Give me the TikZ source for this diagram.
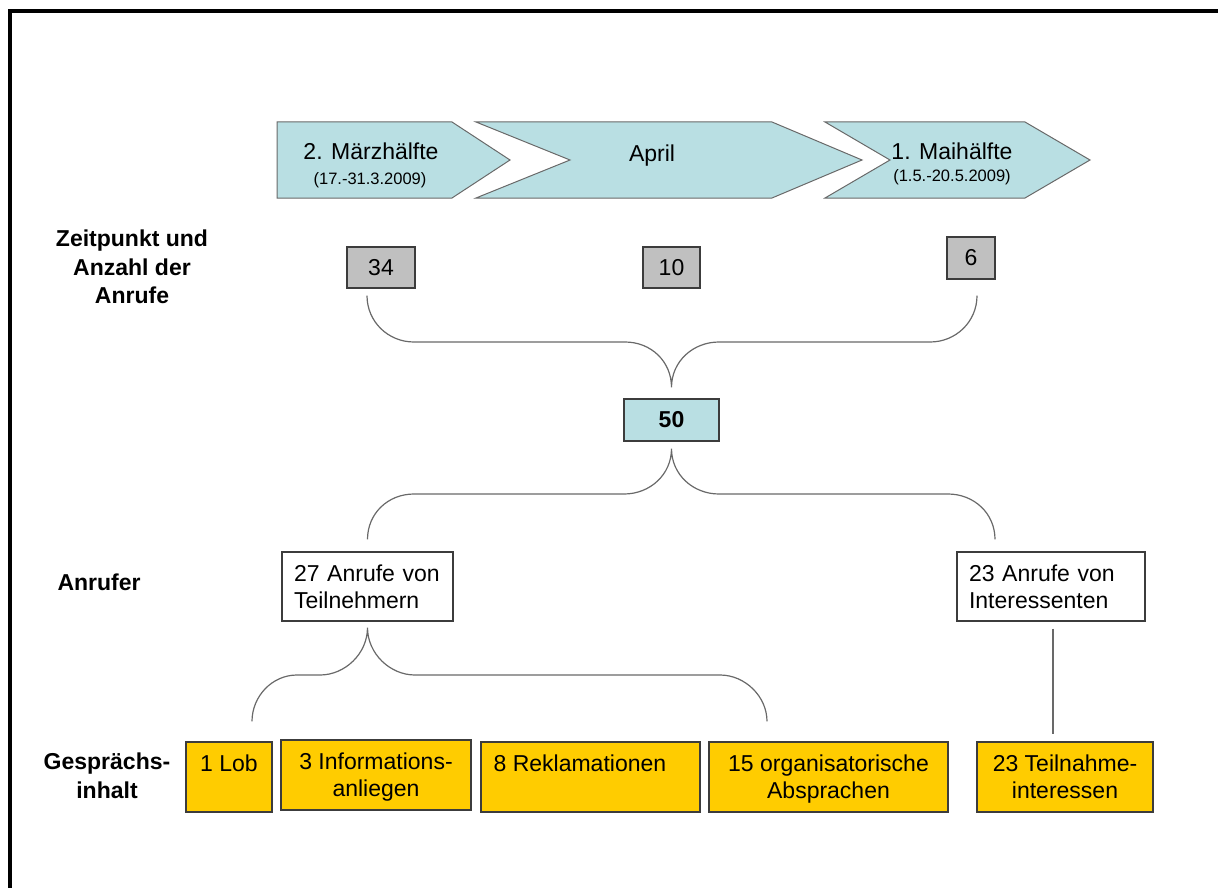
\documentclass[tikz,border=0pt]{standalone}
\usepackage{fontspec}
\setmainfont{Liberation Sans}
\definecolor{timeteal}{RGB}{185,223,227}
\definecolor{countgrey}{RGB}{192,192,192}
\definecolor{topicyellow}{RGB}{255,204,0}
\definecolor{boxline}{RGB}{60,60,60}
\definecolor{braceline}{RGB}{105,105,105}
\tikzset{
  every node/.style={font=\fontsize{23}{27}\selectfont},
  phase/.style={fill=timeteal, draw=braceline, line width=1pt},
  datetext/.style={font=\fontsize{16.5}{18}\selectfont, anchor=base},
  countbox/.style={draw=boxline, fill=countgrey, line width=1.2pt, inner sep=0pt},
  sumbox/.style={countbox, fill=timeteal, font=\fontsize{23}{27}\selectfont\bfseries},
  callerbox/.style={draw=boxline, fill=white, line width=1.2pt, align=left, inner xsep=12pt, minimum height=69pt},
  topicbox/.style={draw=boxline, fill=topicyellow, line width=1.2pt, minimum height=70pt},
  topictext/.style={anchor=north, inner sep=0pt, yshift=-13pt, align=center},
  rowlabel/.style={font=\fontsize{23}{28.5}\selectfont\bfseries, align=center},
  brace/.style={draw=braceline, line width=1.2pt},
}
\begin{document}
\begin{tikzpicture}[x=1pt, y=-1pt]
    \useasboundingbox (0,0) rectangle (1218,888);
    \draw[line width=4pt] (10,892) -- (10,11.5) -- (1222,11.5);

    % time line
    \filldraw[phase] (277,122) -- (452,122) -- (510,160) -- (452,198) -- (277,198) -- cycle;
    \filldraw[phase] (476,122) -- (772,122) -- (862,160) -- (772,198) -- (476,198) -- (570,160) -- cycle;
    \filldraw[phase] (825,122) -- (1025,122) -- (1090,160) -- (1025,198) -- (825,198) -- (890,160) -- cycle;
    \node[anchor=base] (mar) at (371,160) {2. Märzhälfte};
    \node[datetext] (mar-d) at (370,184) {(17.-31.3.2009)};
    \node[anchor=base] (apr) at (652,161) {April};
    \node[anchor=base] (mai) at (952,160) {1. Maihälfte};
    \node[datetext] (mai-d) at (952,181) {(1.5.-20.5.2009)};

    % row labels
    \node[rowlabel] (lab-time) at (132,267) {Zeitpunkt und\\Anzahl der\\Anrufe};
    \node[rowlabel, anchor=west] (lab-caller) at (54,582) {Anrufer};
    \node[rowlabel] (lab-topic) at (107,776) {Gesprächs-\\inhalt};

    % counts
    \node[countbox, minimum width=68pt, minimum height=41pt] (m34) at (381,267.5) {34};
    \node[countbox, minimum width=57pt, minimum height=41pt] (m10) at (671.5,267.5) {10};
    \node[countbox, minimum width=48pt, minimum height=42pt] (m6) at (971,258) {6};
    \node[sumbox, minimum width=95pt, minimum height=42pt] (total) at (671.5,420) {50};

    % callers
    \node[callerbox, text width=147pt] (rt) at (367.5,586.5) {27 Anrufe von\\Teilnehmern};
    \node[callerbox, text width=164pt] (ri) at (1051,586.5) {23 Anrufe von\\Interessenten};

    % topics
    \node[topicbox, minimum width=86pt, label={[topictext]north:1 Lob}] (lob) at (229,777) {};
    \node[topicbox, minimum width=190pt, label={[topictext]north:{3 Informations-\\anliegen}}] (info) at (376,775) {};
    \node[topicbox, minimum width=219pt, label={[topictext, anchor=north west, xshift=13pt]north west:8 Reklamationen}] (rek) at (590.5,777) {};
    \node[topicbox, minimum width=239pt, label={[topictext]north:{15 organisatorische\\Absprachen}}] (org) at (828.5,777) {};
    \node[topicbox, minimum width=176pt, label={[topictext]north:{23 Teilnahme-\\interessen}}] (tn) at (1065,777) {};

    % braces
    \draw[brace] ([xshift=-14pt,yshift=-7pt]m34.south) .. controls +(0,26) and +(-26,0) .. (414,342) -- (625,342)
        .. controls +(26,0) and +(0,-26) .. ([yshift=11pt]total.north)
        .. controls +(0,-26) and +(-26,0) .. (719,342) -- (930,342)
        .. controls +(26,0) and +(0,26) .. ([xshift=6pt,yshift=-16pt]m6.south);
    \draw[brace] ([yshift=12pt]rt.north) .. controls +(0,-26) and +(-26,0) .. (414,494) -- (624,494)
        .. controls +(26,0) and +(0,26) .. ([yshift=-7pt]total.south)
        .. controls +(0,26) and +(-26,0) .. (719,494) -- (948,494)
        .. controls +(26,0) and +(0,-26) .. ([xshift=-56pt,yshift=12pt]ri.north);
    \draw[brace] ([xshift=23pt,yshift=20pt]lob.north) .. controls +(0,-25) and +(-25,0) .. (297,675) -- (320,675)
        .. controls +(25,0) and +(0,26) .. ([yshift=-6pt]rt.south)
        .. controls +(0,26) and +(-25,0) .. (415,675) -- (720,675)
        .. controls +(25,0) and +(0,-25) .. ([xshift=-61.5pt,yshift=20pt]org.north);
    \draw[brace] ([xshift=2pt,yshift=-7pt]ri.south) -- ([xshift=2pt,yshift=7pt]ri.south |- tn.north);
\end{tikzpicture}
\end{document}
